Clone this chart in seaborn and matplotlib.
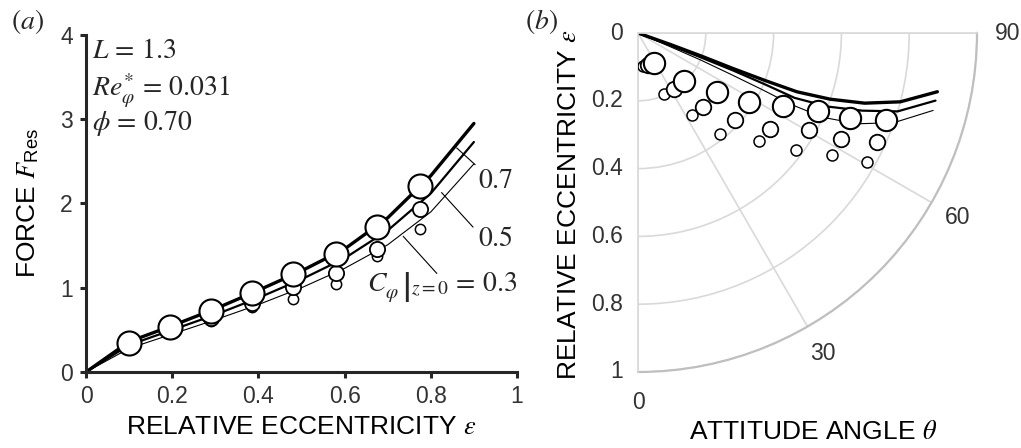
import numpy as np
import matplotlib
matplotlib.use("Agg")
import matplotlib.pyplot as plt
import seaborn as sns

# measured points (same eccentricities in both panels)
eps_exp = [0.10, 0.195, 0.29, 0.385, 0.48, 0.58, 0.675, 0.775]
force_07 = [0.35, 0.53, 0.72, 0.94, 1.16, 1.40, 1.72, 2.21]
force_05 = [0.33, 0.51, 0.64, 0.82, 1.01, 1.17, 1.46, 1.93]
force_03 = [0.31, 0.48, 0.61, 0.77, 0.87, 1.05, 1.38, 1.70]
theta_07 = [28.6, 43.6, 53.2, 57.9, 63.3, 66.6, 68.2, 70.6]
theta_05 = [17.0, 32.5, 41.6, 48.2, 54.0, 60.5, 62.3, 65.5]
theta_03 = [9.0, 23.5, 33.0, 39.0, 48.2, 53.6, 57.9, 60.5]

# calculated curves
eps_calc = [0, 0.1, 0.2, 0.3, 0.4, 0.5, 0.6, 0.7, 0.8, 0.9]
fcalc_07 = [0, 0.36, 0.55, 0.75, 0.97, 1.20, 1.46, 1.83, 2.33, 2.95]
fcalc_05 = [0, 0.32, 0.50, 0.68, 0.88, 1.10, 1.35, 1.68, 2.12, 2.73]
fcalc_03 = [0, 0.28, 0.45, 0.62, 0.80, 1.00, 1.23, 1.51, 1.90, 2.47]
tcalc_07 = [70.5, 70.5, 70.0, 69.5, 69.5, 69.7, 71.0, 72.8, 75.3, 78.9]
tcalc_05 = [69.0, 69.0, 68.8, 68.5, 68.0, 67.5, 68.8, 70.9, 73.2, 77.2]
tcalc_03 = [67.0, 67.0, 66.7, 66.0, 65.5, 65.0, 65.5, 67.5, 70.7, 75.3]

x_ticks = [0, 0.2, 0.4, 0.6, 0.8, 1.0]
x_ticklabels = ["0", "0.2", "0.4", "0.6", "0.8", "1"]
y_ticks = [0, 1, 2, 3, 4]
r_ticks = [0, 0.2, 0.4, 0.6, 0.8, 1.0]
r_ticklabels = ["0", "0.2", "0.4", "0.6", "0.8", "1"]
angle_ticks = [0, 30, 60, 90]

sns.set_theme(style="white")
plt.rcParams['font.family'] = ['Liberation Sans', 'DejaVu Sans']
plt.rcParams['mathtext.fontset'] = 'stix'

dark = '#262626'
tick_col = '#333333'
light = '#d9d9d9'

fig = plt.figure(figsize=(10.21, 4.48), dpi=100)

# ---------- (a) force vs eccentricity ----------
ax1 = fig.add_axes([86/1021, 76/448, 431/1021, 337/448])
for f, lw in [(fcalc_07, 2.4), (fcalc_05, 1.6), (fcalc_03, 0.8)]:
    sns.lineplot(x=eps_calc, y=f, ax=ax1, color='black', linewidth=lw,
                 sort=False, estimator=None, zorder=2)
for f, s, ew in [(force_03, 55, 1.1), (force_05, 120, 1.3), (force_07, 300, 1.5)]:
    sns.scatterplot(x=eps_exp, y=f, ax=ax1, s=s, color='white',
                    edgecolor='black', linewidth=ew, zorder=3, clip_on=False)

ax1.set_xlim(0, 1)
ax1.set_ylim(0, 4)
ax1.set_xticks(x_ticks)
ax1.set_xticklabels(x_ticklabels)
ax1.set_yticks(y_ticks)
sns.despine(ax=ax1)
for sp in ['left', 'bottom']:
    ax1.spines[sp].set_color(dark)
    ax1.spines[sp].set_linewidth(2.2)
ax1.tick_params(direction='out', length=4.5, width=2.2, color=dark,
                labelsize=16.5, labelcolor=tick_col, pad=5,
                bottom=True, left=True)
ax1.set_xlabel(r"RELATIVE ECCENTRICITY $\varepsilon$", fontsize=19, color='black', labelpad=5)
ax1.set_ylabel(r"FORCE $F_{\mathregular{Res}}$", fontsize=19, color='black', labelpad=14)

ax1.text(0.015, 3.96, r"$L\,=\,1.3$", fontsize=20, va='top')
ax1.text(0.015, 3.57, r"$Re^{*}_{\varphi}\,=\,0.031$", fontsize=20, va='top')
ax1.text(0.015, 3.12, r"$\phi\,=\,0.70$", fontsize=20, va='top')

# leader lines for the curve labels
ax1.plot([0.860, 0.903], [2.66, 2.46], color='black', lw=0.8)
ax1.plot([0.825, 0.898], [2.13, 1.72], color='black', lw=0.8)
ax1.plot([0.736, 0.814], [1.61, 1.17], color='black', lw=0.8)
ax1.text(0.95, 2.27, r"$0.7$", fontsize=20, ha='center', va='center')
ax1.text(0.95, 1.58, r"$0.5$", fontsize=20, ha='center', va='center')
ax1.text(1.0, 1.0, r"$\left.C^{\;}_{\varphi}\,\right|_{z=0}\,=\,0.3$", fontsize=20,
         ha='right', va='center')

# ---------- (b) locus in polar coordinates ----------
ax2 = fig.add_axes([638/1021, 76/448, 339/1021, 339/448], projection='polar')
ax2.set_theta_zero_location('S')
ax2.set_theta_direction(1)
ax2.set_thetamin(0)
ax2.set_thetamax(90)
ax2.set_rlim(0, 1)
ax2.set_rticks(r_ticks)
ax2.set_yticklabels([])
ax2.set_xticks(np.radians(angle_ticks))
ax2.set_xticklabels([])
ax2.grid(True, color=light, linewidth=1.2)
ax2.spines['polar'].set_color('#bfbfbf')
ax2.spines['polar'].set_linewidth(1.6)
for sp in ['start', 'end']:
    ax2.spines[sp].set_color(light)
    ax2.spines[sp].set_linewidth(1.2)
ax2.spines['inner'].set_visible(False)
ax2.tick_params(axis='x', direction='out', length=5, width=1.2, colors=light)
ax2.tick_params(axis='y', length=4, width=1.2, colors=light)

for t, lw in [(tcalc_07, 2.4), (tcalc_05, 1.6), (tcalc_03, 0.8)]:
    sns.lineplot(x=np.radians(t), y=eps_calc, ax=ax2, color='black', linewidth=lw,
                 sort=False, estimator=None, zorder=2)
for t, s, ew in [(theta_03, 63, 1.1), (theta_05, 125, 1.3), (theta_07, 235, 1.5)]:
    sns.scatterplot(x=np.radians(t), y=eps_exp, ax=ax2, s=s, color='white',
                    edgecolor='black', linewidth=ew, zorder=3)
ax2.set_xlabel("")
ax2.set_ylabel("")

for r, lab in zip(r_ticks, r_ticklabels):
    ax2.annotate(lab, xy=(0, r), xytext=(-11, 0), textcoords='offset points',
                 ha='right', va='center', fontsize=16.5, color=tick_col)
for a in angle_ticks:
    ax2.text(np.radians(a), 1.09, str(a), ha='center', va='center',
             fontsize=16.5, color=tick_col)

fig.text(569/1021, 1 - 205/448, r"RELATIVE ECCENTRICITY $\varepsilon$", rotation=90,
         ha='center', va='center', fontsize=19, color='black')
fig.text(813/1021, 1 - 432/448, r"ATTITUDE ANGLE $\theta$",
         ha='center', va='center', fontsize=19, color='black')

fig.text(28/1021, 1 - 21/448, r"$(a)$", ha='center', va='center', fontsize=20)
fig.text(541/1021, 1 - 21/448, r"$(b)$", ha='center', va='center', fontsize=20)

fig.savefig("out.png", dpi=100)
